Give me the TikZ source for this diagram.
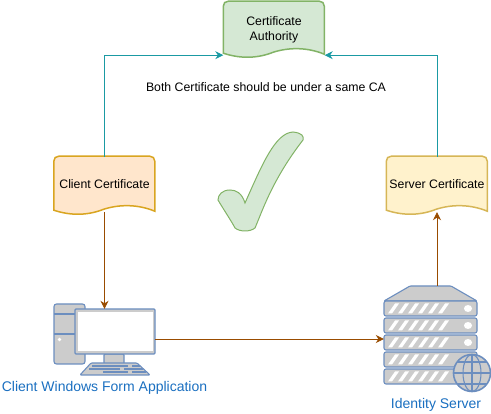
\documentclass[tikz,border=0pt]{standalone}
\usepackage{fontspec}
\setmainfont{Liberation Sans}
\usetikzlibrary{arrows.meta,backgrounds}
\definecolor{teal1}{HTML}{1A9AA3}
\definecolor{brown1}{HTML}{994C00}
\definecolor{iconline}{HTML}{6C8EBF}
\definecolor{icongray}{HTML}{CCCCCC}
\definecolor{labelblue}{HTML}{1A6FC0}
\definecolor{cafill}{HTML}{D5E8D4}
\definecolor{caline}{HTML}{82B366}
\definecolor{ccfill}{HTML}{FFE6CC}
\definecolor{ccline}{HTML}{D9A520}
\definecolor{scfill}{HTML}{FFF2CC}
\definecolor{scline}{HTML}{D6B656}
\tikzset{
  cert/.style={minimum width=101,minimum height=55,inner sep=0,font=\fontsize{12.3}{15}\selectfont,align=center},
  icon/.style={draw=iconline,fill=icongray,line width=1.1,rounded corners=1},
  label/.style={inner sep=0,text=labelblue,font=\fontsize{14}{16}\selectfont},
  tealarrow/.style={teal1,line width=0.8,-{Stealth[length=8,width=8]}},
  brownarrow/.style={brown1,line width=0.8,-{Stealth[length=8,width=8]}},
}
\newcommand{\certshape}[4]{
\begin{pgfonlayer}{background}
\begin{scope}[shift={(#1.south west)}]
\draw[fill=#2,draw=#3,line width=1.5] (0,-2) -- (0,-#4+5) .. controls (0,-#4+2) and (2,-#4) .. (5,-#4)
  -- (96,-#4) .. controls (99,-#4) and (101,-#4+2) .. (101,-#4+5) -- (101,-1)
  .. controls (84,-8) and (66,-8) .. (50,-3) .. controls (35,3) and (18,4) .. (0,-2) -- cycle;
\end{scope}
\end{pgfonlayer}
}
\begin{document}
\begin{tikzpicture}[x=1pt,y=-1pt]
\useasboundingbox (0,0) rectangle (491,414);
% documents
\node[cert,minimum height=51] (ca) at (274,29.5) {Certificate\\Authority};
\certshape{ca}{cafill}{caline}{54}
\node[cert] (ccert) at (104.5,184.5) {Client Certificate};
\certshape{ccert}{ccfill}{ccline}{56}
\node[cert] (scert) at (437,184.5) {Server Certificate};
\certshape{scert}{scfill}{scline}{56}
\node[inner sep=0,font=\fontsize{12.3}{15}\selectfont] (note) at (266,87) {Both Certificate should be under a same CA};
% check mark
\draw[fill=cafill,draw=caline,line width=1] (245,203)
  .. controls (242,193) and (236,190) .. (230,190) .. controls (222,190) and (218,195) .. (218,200)
  .. controls (222,207) and (232,222) .. (235,228) .. controls (240,232) and (250,232) .. (255,228)
  .. controls (262,212) and (272,180) .. (303,140) .. controls (304,136) and (302,133) .. (293,132)
  .. controls (275,133) and (262,165) .. (245,203) -- cycle;
% computer
\node[minimum width=101,minimum height=60,inner sep=0] (pc) at (104.5,339) {};
\draw[icon,rounded corners=2.5] (54,304) rectangle (85,364);
\draw[icon] (54,314) -- (75,314) (54,334) -- (75,334);
\fill[white] (59.5,339.5) circle (1.8);
\draw[icon] (104,354) rectangle (124,364);
\draw[icon] (80,375) -- (91,363) -- (137,363) -- (150,375) -- cycle;
\foreach \y/\a/\b in {366/92/128,369/89/120,372/103/128}
  \draw[iconline,line width=1.4] (\a,\y) -- (\b,\y);
\foreach \y/\a/\b in {366/132/140,369/124/143,372/132/146}
  \draw[iconline,line width=1.4] (\a,\y) -- (\b,\y);
\draw[icon] (75,309) rectangle (155,354);
\draw[fill=white,draw=none] (77.5,312) rectangle (152.5,351);
% server
\node[minimum width=106,minimum height=106,inner sep=0] (srv) at (437,339) {};
\draw[icon] (384,301) -- (410,286) -- (451,286) -- (477,301) -- cycle;
\foreach \y in {301,318,335,352,369} {
  \draw[icon,rounded corners=2] (384,\y) rectangle (477,\y+15);
  \foreach \x in {388,398,408,418,428,438}
    \fill[white] (\x,\y+12.5) -- (\x+4,\y+12.5) -- (\x+11,\y+2.5) -- (\x+7,\y+2.5) -- cycle;
  \fill[white] (468,\y+7.5) ellipse (4 and 3.5);
}
\draw[fill=icongray,draw=iconline,line width=1.6] (472,373) circle (18.5);
\draw[iconline,line width=1.1] (472,354.5) -- (472,391.5) (453.5,373) -- (490.5,373)
  (457,362) -- (487,362) (457,384) -- (487,384);
\draw[iconline,line width=1.1] (472,373) ellipse (9 and 18.5);
% labels
\node[label] (pclabel) at (104.5,388) {Client Windows Form Application};
\node[label] (srvlabel) at (436,405) {Identity Server};
% connectors
\draw[tealarrow] (ccert.north) |- (ca.south west);
\draw[tealarrow] (scert.north) |- (ca.south east);
\draw[brownarrow] (ccert.south) -- (pc.north);
\draw[brownarrow] (pc.east) -- (srv.west);
\draw[brownarrow] (srv.north) -- (scert.south);
\end{tikzpicture}
\end{document}
